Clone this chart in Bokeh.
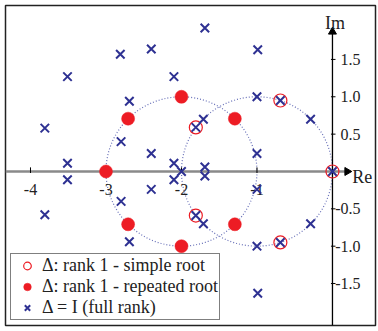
from bokeh.plotting import figure
from bokeh.models import Legend, LegendItem
from bokeh.core.properties import value
from bokeh.embed import file_html
from bokeh.resources import INLINE

# ---- data ----
repeated_re = [-3.0, -2.707, -2.0, -1.293, -2.707, -2.0, -1.293]
repeated_im = [0.0, 0.707, 1.0, 0.707, -0.707, -1.0, -0.707]

simple_re = [0.0, -0.69, -1.81, -1.81, -0.69]
simple_im = [0.0, 0.95, 0.59, -0.59, -0.95]

full_re = [-3.81, -3.81, -3.51, -3.51, -3.51, -3.51, -2.81, -2.81, -2.40, -2.40,
           -2.10, -2.10, -2.69, -2.69, -2.80, -2.80, -2.40, -2.40, -2.10, -2.10,
           -2.00, -1.69, -1.69, -0.99, -0.99, -1.00, -1.00, -0.69, -0.69, -1.71,
           -1.71, -1.81, -1.81, -0.29, -0.29, -1.00, -1.00, -1.69, -1.69, 0.00]
full_im = [0.58, -0.58, 0.11, -0.11, 1.27, -1.27, 1.57, -1.57, 1.64, -1.64,
           1.27, -1.27, 0.94, -0.94, 0.40, -0.40, 0.24, -0.24, 0.11, -0.11,
           0.00, 1.92, -1.92, 1.63, -1.63, 1.00, -1.00, 0.95, -0.95, 0.70,
           -0.70, 0.59, -0.59, 0.70, -0.70, 0.24, -0.24, 0.06, -0.06, 0.00]

circle_center_re = [-2.0, -1.0]
circle_center_im = [0.0, 0.0]
circle_radius = [1.0, 1.0]

xtick_values = [-4, -3, -2, -1]
xtick_labels = ["-4", "-3", "-2", "-1"]
ytick_values = [1.5, 1.0, 0.5, -0.5, -1.0, -1.5]
ytick_labels = ["1.5", "1.0", "0.5", "-0.5", "-1.0", "-1.5"]

legend_labels = ["\u0394: rank 1 - simple root",
                 "\u0394: rank 1 - repeated root",
                 "\u0394 = I (full rank)"]

RED = "#ED1C24"
BLUE = "#2E3192"
FONT = "Liberation Serif"

X0, X1 = -4.331, 0.570
Y0, Y1 = -2.062, 2.222

p = figure(width=378, height=331, x_range=(X0, X1), y_range=(Y0, Y1),
           x_axis_type=None, y_axis_type=None, toolbar_location=None,
           output_backend="svg",
           min_border_left=5, min_border_top=5, min_border_right=3, min_border_bottom=6)
p.outline_line_color = "#222222"
p.outline_line_width = 1.5
p.background_fill_color = "white"
p.border_fill_color = "white"

# dotted circles
p.ellipse(x=circle_center_re, y=circle_center_im,
          width=[2 * r for r in circle_radius], height=[2 * r for r in circle_radius],
          fill_color=None, line_color="#6870b8", line_width=1.2, line_dash="1 2")

# axes
p.segment(x0=[X0], y0=[0], x1=[0.17], y1=[0], line_color="#8a8a8a", line_width=2.6)
p.segment(x0=[0], y0=[Y0], x1=[0], y1=[1.85], line_color="black", line_width=1.3)
p.scatter(x=[0.195], y=[0], marker="triangle", angle=-1.5708, size=8,
          fill_color="black", line_color="black")
p.scatter(x=[0], y=[1.87], marker="triangle", size=8,
          fill_color="black", line_color="black")
# ticks
p.segment(x0=xtick_values, y0=[-0.02] * len(xtick_values),
          x1=xtick_values, y1=[0.055] * len(xtick_values),
          line_color="black", line_width=1)
p.segment(x0=[-0.02] * len(ytick_values), y0=ytick_values,
          x1=[0.04] * len(ytick_values), y1=ytick_values,
          line_color="black", line_width=1)
p.text(x=xtick_values, y=[-0.235] * len(xtick_values), text=xtick_labels,
       text_font=value(FONT), text_font_size="16px", text_align="center",
       text_baseline="alphabetic", text_color="#222222")
p.text(x=[0.372] * len(ytick_values), y=ytick_values, text=ytick_labels,
       text_font=value(FONT), text_font_size="16px", text_align="right",
       text_baseline="middle", text_color="#222222")
p.text(x=[0.035], y=[1.985], text=["Im"], text_font=value(FONT),
       text_font_size="18px", text_align="center", text_baseline="alphabetic",
       text_color="#222222")
p.text(x=[0.262], y=[-0.075], text=["Re"], text_font=value(FONT),
       text_font_size="18px", text_align="left", text_baseline="alphabetic",
       text_color="#222222")

# roots
r_rep = p.scatter(x=repeated_re, y=repeated_im, marker="circle", size=13,
                  fill_color=RED, line_color=RED, line_width=0.5)
r_simple = p.scatter(x=simple_re, y=simple_im, marker="circle", size=13,
                     fill_color=None, line_color=RED, line_width=1.2)
r_full = p.scatter(x=full_re, y=full_im, marker="x", size=12,
                   line_color=BLUE, line_width=2)

legend = Legend(items=[LegendItem(label=legend_labels[0], renderers=[r_simple]),
                       LegendItem(label=legend_labels[1], renderers=[r_rep]),
                       LegendItem(label=legend_labels[2], renderers=[r_full])],
                location="bottom_left")
legend.label_text_font = FONT
legend.label_text_font_size = "18px"
legend.label_text_color = "#222222"
legend.border_line_color = "black"
legend.border_line_width = 1
legend.background_fill_alpha = 1.0
legend.padding = 1
legend.margin = 5
legend.spacing = 0
legend.glyph_width = 30
legend.glyph_height = 19
legend.label_height = 19
legend.label_standoff = 0
p.add_layout(legend, "center")

open("out.html", "w").write(file_html(p, INLINE))
